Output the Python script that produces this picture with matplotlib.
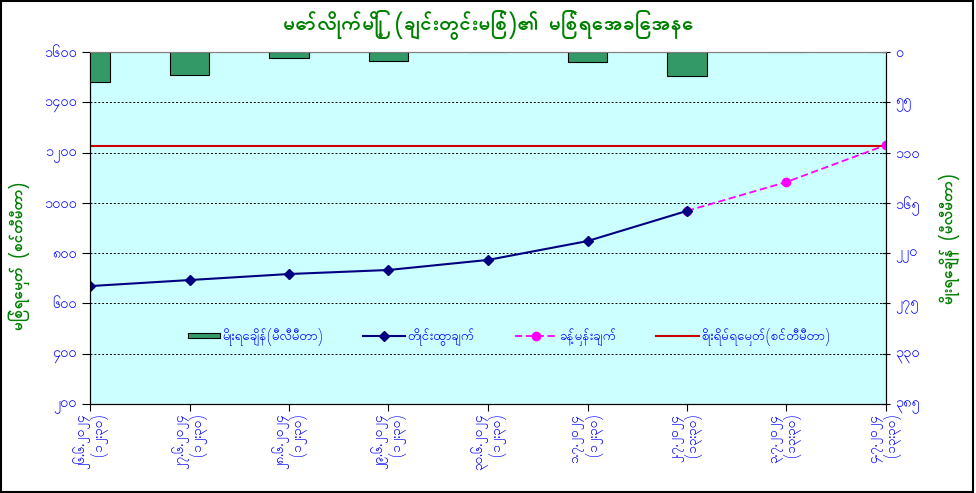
import matplotlib
matplotlib.use('Agg')
import matplotlib.pyplot as plt
import matplotlib.patches as patches
from matplotlib.legend_handler import HandlerPatch

# data
dates = ['၂၆.၆.၂၀၂၄', '၂၇.၆.၂၀၂၄', '၂၈.၆.၂၀၂၄', '၂၉.၆.၂၀၂၄', '၃၀.၆.၂၀၂၄',
         '၁.၇.၂၀၂၄', '၂.၇.၂၀၂၄', '၃.၇.၂၀၂၄', '၄.၇.၂၀၂၄']
times = ['(၁၂:၃၀)'] * 6 + ['(၁၃:၃၀)'] * 3
measured = [669, 693, 717, 733, 773, 848, 968]
forecast = [968, 1083, 1230]
danger = 1228
rain = [33, 25, 7, 10, 0, 11, 26, 0, 0]

left_ticks = [200, 400, 600, 800, 1000, 1200, 1400, 1600]
left_labels = ['၂၀၀', '၄၀၀', '၆၀၀', '၈၀၀', '၁၀၀၀', '၁၂၀၀', '၁၄၀၀', '၁၆၀၀']
right_ticks = [0, 55, 110, 165, 220, 275, 330, 385]
right_labels = ['၀', '၅၅', '၁၁၀', '၁၆၅', '၂၂၀', '၂၇၅', '၃၃၀', '၃၈၅']

plt.rcParams['font.family'] = ['Padauk', 'DejaVu Sans']

blue = '#0000ff'
green = '#008000'

fig = plt.figure(figsize=(9.76, 4.93), dpi=100)
fig.patch.set_facecolor('white')
ax = fig.add_axes([90 / 976, 89 / 493, 796 / 976, 352 / 493])
ax.set_facecolor('#ccffff')

x = list(range(len(dates)))
ax.set_xlim(0, len(dates) - 1)
ax.set_ylim(200, 1600)
ax.set_yticks(left_ticks)
ax.set_yticklabels(left_labels, color=blue, fontsize=10.5)
for t in left_ticks[1:-1]:
    ax.axhline(t, color='black', lw=0.7, ls=(0, (2, 2)), zorder=1)

l_meas, = ax.plot(x[:len(measured)], measured, color='#000080', lw=1.5,
                  marker='D', ms=5, zorder=4, label='တိုင်းထွာချက်')
fx = x[len(measured) - 1:len(measured) - 1 + len(forecast)]
l_fc, = ax.plot(fx, forecast, color='#ff00ff', lw=1.3, ls=(0, (4, 2)),
                marker='o', ms=6, zorder=3, label='ခန့်မှန်းချက်')
l_dg = ax.axhline(danger, color='#cc0000', lw=1.5, zorder=2,
                  label='စိုးရိမ်ရေမှတ်(စင်တီမီတာ)')

ax.set_xticks(x)
ax.set_xticklabels([d + '\n' + t for d, t in zip(dates, times)], rotation=90,
                   color=blue, fontsize=9.8, ma='right', va='top', linespacing=1.0)
ax.tick_params(axis='x', length=5, direction='out', pad=2)
ax.tick_params(axis='y', length=6, direction='out')
ax.spines['top'].set_color('#808080')

ax2 = ax.twinx()
ax2.set_ylim(385, 0)
ax2.set_yticks(right_ticks)
ax2.set_yticklabels(right_labels, color=blue, fontsize=10.5)
ax2.tick_params(axis='y', length=6, direction='inout')
b = ax2.bar(x, rain, width=0.4, color='#339966', edgecolor='black', lw=0.8,
            zorder=2, label='မိုးရေချိန်(မီလီမီတာ)')
ax2.spines['top'].set_color('#808080')

ax.set_ylabel('မြစ်ရေမှတ် (စင်တီမီတာ)', color=green, fontsize=11, fontweight='bold')
ax.yaxis.set_label_coords(-0.075, 0.42)
ax2.set_ylabel('မိုးရေချိန် (မီလီမီတာ)', color=green, fontsize=11,
               fontweight='bold', rotation=90)
ax2.yaxis.set_label_coords(1.067, 0.47)

fig.text(0.5, 0.95, 'မော်လိုက်မြို့ (ချင်းတွင်းမြစ်)၏ မြစ်ရေအခြေအနေ', ha='center',
         va='center', color=green, fontsize=15, fontweight='bold')


def flat_patch(legend, orig_handle, xdescent, ydescent, width, height, fontsize):
    return patches.Rectangle((-xdescent + width * 0.25, -ydescent + height * 0.2),
                             width * 0.75, height * 0.55)


bar_handle = b.patches[0]
ax2.legend([bar_handle, l_meas, l_fc, l_dg],
           [b.get_label(), l_meas.get_label(), l_fc.get_label(), l_dg.get_label()],
           loc='center', bbox_to_anchor=(0.52, 0.19), ncol=4, frameon=False,
           fontsize=9.5, labelcolor=blue, handlelength=3.2, handletextpad=0.2,
           columnspacing=3.0, handler_map={bar_handle: HandlerPatch(patch_func=flat_patch)})

fig.add_artist(patches.Rectangle((0.001, 0.002), 0.996, 0.995, transform=fig.transFigure,
                                 fill=False, edgecolor='black', lw=1.5))

plt.savefig('out.png', dpi=100, facecolor='white')
